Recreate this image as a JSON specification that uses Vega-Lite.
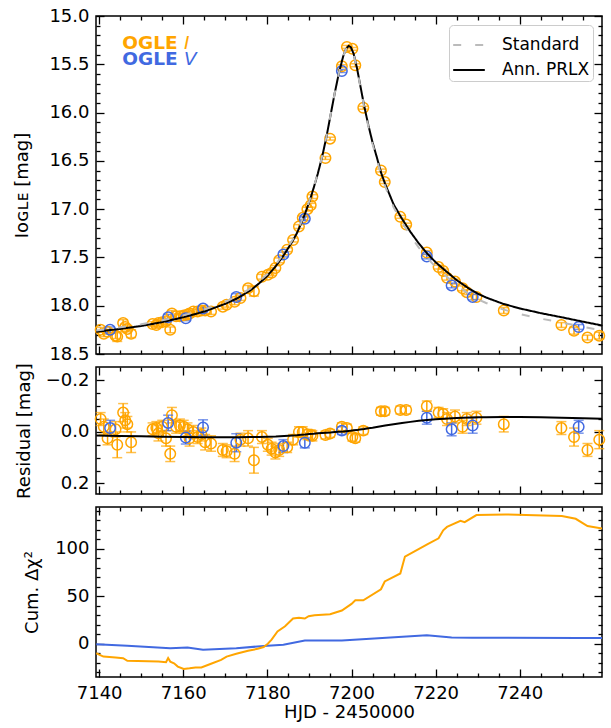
{
  "$schema": "https://vega.github.io/schema/vega-lite/v6.json",
  "background": "white",
  "padding": {"left": 13, "top": 6, "right": 6, "bottom": 2},
  "spacing": 13,
  "bounds": "flush",
  "config": {
    "font": "DejaVu Sans",
    "view": {"stroke": "black", "strokeWidth": 1.5},
    "axis": {"labelFont": "DejaVu Sans", "labelFontSize": 18, "labelColor": "black", "titleFont": "DejaVu Sans", "titleFontSize": 18, "titleFontWeight": "normal", "titleColor": "black", "grid": false, "domain": false, "tickColor": "black", "tickWidth": 1.3, "labelOverlap": false, "labelFlush": false, "minExtent": 0}
  },
  "datasets": {
    "I": [
      {"t":7140.35,"mag":18.25,"res":-0.05,"err":0.025},
      {"t":7141.1,"mag":18.29,"res":-0.02,"err":0.03},
      {"t":7142.0,"mag":18.27,"res":0.025,"err":0.025},
      {"t":7143.9,"mag":18.31,"res":-0.01,"err":0.03},
      {"t":7144.3,"mag":18.32,"res":0.05,"err":0.05},
      {"t":7145.7,"mag":18.18,"res":-0.075,"err":0.035},
      {"t":7146.2,"mag":18.22,"res":-0.045,"err":0.03},
      {"t":7146.7,"mag":18.24,"res":-0.03,"err":0.03},
      {"t":7147.6,"mag":18.29,"res":0.04,"err":0.04},
      {"t":7152.7,"mag":18.19,"res":-0.01,"err":0.025},
      {"t":7153.6,"mag":18.2,"res":-0.015,"err":0.025},
      {"t":7154.1,"mag":18.18,"res":0.005,"err":0.03},
      {"t":7155.0,"mag":18.17,"res":-0.02,"err":0.025},
      {"t":7155.9,"mag":18.16,"res":0.025,"err":0.03},
      {"t":7156.9,"mag":18.25,"res":0.085,"err":0.03},
      {"t":7157.3,"mag":18.08,"res":-0.065,"err":0.03},
      {"t":7158.3,"mag":18.11,"res":-0.02,"err":0.025},
      {"t":7159.2,"mag":18.11,"res":-0.025,"err":0.025},
      {"t":7160.1,"mag":18.1,"res":-0.02,"err":0.025},
      {"t":7161.0,"mag":18.09,"res":-0.01,"err":0.025},
      {"t":7161.5,"mag":18.08,"res":0.025,"err":0.03},
      {"t":7162.4,"mag":18.06,"res":0.0,"err":0.025},
      {"t":7163.4,"mag":18.06,"res":0.02,"err":0.025},
      {"t":7164.3,"mag":18.05,"res":0.01,"err":0.025},
      {"t":7165.2,"mag":18.05,"res":0.04,"err":0.03},
      {"t":7166.6,"mag":18.06,"res":0.045,"err":0.03},
      {"t":7169.4,"mag":18.01,"res":0.07,"err":0.025},
      {"t":7170.3,"mag":17.99,"res":0.075,"err":0.025},
      {"t":7172.2,"mag":17.96,"res":0.085,"err":0.03},
      {"t":7173.6,"mag":17.92,"res":0.03,"err":0.025},
      {"t":7175.4,"mag":17.82,"res":0.025,"err":0.03},
      {"t":7176.8,"mag":17.85,"res":0.11,"err":0.05},
      {"t":7178.7,"mag":17.7,"res":0.02,"err":0.025},
      {"t":7180.1,"mag":17.68,"res":0.05,"err":0.025},
      {"t":7181.0,"mag":17.66,"res":0.065,"err":0.025},
      {"t":7181.9,"mag":17.61,"res":0.08,"err":0.025},
      {"t":7182.8,"mag":17.53,"res":0.07,"err":0.025},
      {"t":7184.7,"mag":17.42,"res":0.06,"err":0.02},
      {"t":7186.1,"mag":17.32,"res":0.03,"err":0.02},
      {"t":7187.5,"mag":17.18,"res":0.0,"err":0.02},
      {"t":7188.4,"mag":17.09,"res":0.0,"err":0.02},
      {"t":7189.5,"mag":17.0,"res":0.01,"err":0.02},
      {"t":7190.3,"mag":16.96,"res":0.012,"err":0.02},
      {"t":7190.7,"mag":16.87,"res":0.015,"err":0.02},
      {"t":7193.8,"mag":16.47,"res":0.012,"err":0.015},
      {"t":7194.9,"mag":16.27,"res":0.006,"err":0.015},
      {"t":7197.7,"mag":15.52,"res":-0.02,"err":0.015},
      {"t":7198.9,"mag":15.32,"res":-0.015,"err":0.015},
      {"t":7200.2,"mag":15.34,"res":0.02,"err":0.015},
      {"t":7200.9,"mag":15.51,"res":0.025,"err":0.015},
      {"t":7202.8,"mag":15.95,"res":-0.005,"err":0.015},
      {"t":7207.0,"mag":16.6,"res":-0.08,"err":0.015},
      {"t":7207.9,"mag":16.72,"res":-0.08,"err":0.015},
      {"t":7211.6,"mag":17.08,"res":-0.085,"err":0.015},
      {"t":7213.0,"mag":17.16,"res":-0.085,"err":0.015},
      {"t":7217.9,"mag":17.45,"res":-0.1,"err":0.02},
      {"t":7220.7,"mag":17.6,"res":-0.075,"err":0.02},
      {"t":7221.8,"mag":17.64,"res":-0.07,"err":0.02},
      {"t":7222.7,"mag":17.71,"res":-0.05,"err":0.025},
      {"t":7224.6,"mag":17.75,"res":-0.06,"err":0.025},
      {"t":7226.4,"mag":17.82,"res":-0.02,"err":0.025},
      {"t":7227.4,"mag":17.86,"res":-0.05,"err":0.025},
      {"t":7229.7,"mag":17.91,"res":-0.055,"err":0.025},
      {"t":7236.2,"mag":18.05,"res":-0.03,"err":0.03},
      {"t":7249.9,"mag":18.2,"res":-0.015,"err":0.025},
      {"t":7252.9,"mag":18.26,"res":0.02,"err":0.035},
      {"t":7256.1,"mag":18.33,"res":0.07,"err":0.025},
      {"t":7258.9,"mag":18.31,"res":0.03,"err":0.035}
    ],
    "V": [
      {"t":7142.6,"mag":18.25,"res":-0.015,"err":0.03},
      {"t":7156.4,"mag":18.12,"res":-0.035,"err":0.03},
      {"t":7160.6,"mag":18.13,"res":0.022,"err":0.025},
      {"t":7164.7,"mag":18.03,"res":-0.017,"err":0.03},
      {"t":7172.6,"mag":17.91,"res":0.042,"err":0.035},
      {"t":7183.8,"mag":17.47,"res":0.055,"err":0.025},
      {"t":7188.9,"mag":17.1,"res":0.042,"err":0.02},
      {"t":7197.7,"mag":15.57,"res":-0.005,"err":0.015},
      {"t":7217.9,"mag":17.49,"res":-0.055,"err":0.025},
      {"t":7223.8,"mag":17.79,"res":-0.01,"err":0.025},
      {"t":7228.8,"mag":17.91,"res":-0.025,"err":0.03},
      {"t":7254.0,"mag":18.22,"res":-0.02,"err":0.025}
    ],
    "model": [
      {"t":7139.3,"prlx":18.27,"std":18.256,"d":0.014},
      {"t":7145,"prlx":18.24,"std":18.224,"d":0.016},
      {"t":7150,"prlx":18.21,"std":18.193,"d":0.017},
      {"t":7155,"prlx":18.17,"std":18.151,"d":0.019},
      {"t":7160,"prlx":18.12,"std":18.1,"d":0.02},
      {"t":7165,"prlx":18.06,"std":18.039,"d":0.021},
      {"t":7170,"prlx":17.98,"std":17.959,"d":0.021},
      {"t":7173,"prlx":17.92,"std":17.899,"d":0.021},
      {"t":7176,"prlx":17.84,"std":17.82,"d":0.02},
      {"t":7178,"prlx":17.77,"std":17.75,"d":0.02},
      {"t":7180,"prlx":17.69,"std":17.671,"d":0.019},
      {"t":7182,"prlx":17.59,"std":17.572,"d":0.018},
      {"t":7184,"prlx":17.47,"std":17.454,"d":0.016},
      {"t":7186,"prlx":17.33,"std":17.316,"d":0.014},
      {"t":7187,"prlx":17.25,"std":17.237,"d":0.013},
      {"t":7188,"prlx":17.15,"std":17.139,"d":0.011},
      {"t":7189,"prlx":17.04,"std":17.03,"d":0.01},
      {"t":7190,"prlx":16.92,"std":16.912,"d":0.008},
      {"t":7191,"prlx":16.78,"std":16.773,"d":0.007},
      {"t":7192,"prlx":16.63,"std":16.625,"d":0.005},
      {"t":7193,"prlx":16.46,"std":16.456,"d":0.004},
      {"t":7194,"prlx":16.26,"std":16.257,"d":0.003},
      {"t":7195,"prlx":16.03,"std":16.028,"d":0.002},
      {"t":7196,"prlx":15.8,"std":15.8,"d":0.0},
      {"t":7197,"prlx":15.59,"std":15.591,"d":-0.001},
      {"t":7198,"prlx":15.42,"std":15.422,"d":-0.002},
      {"t":7198.7,"prlx":15.34,"std":15.343,"d":-0.003},
      {"t":7199.3,"prlx":15.31,"std":15.314,"d":-0.004},
      {"t":7199.8,"prlx":15.32,"std":15.325,"d":-0.005},
      {"t":7200.5,"prlx":15.39,"std":15.396,"d":-0.006},
      {"t":7201.3,"prlx":15.54,"std":15.547,"d":-0.007},
      {"t":7202,"prlx":15.7,"std":15.709,"d":-0.009},
      {"t":7203,"prlx":15.93,"std":15.941,"d":-0.011},
      {"t":7204,"prlx":16.13,"std":16.144,"d":-0.014},
      {"t":7205,"prlx":16.31,"std":16.326,"d":-0.016},
      {"t":7206,"prlx":16.46,"std":16.479,"d":-0.019},
      {"t":7207,"prlx":16.62,"std":16.642,"d":-0.022},
      {"t":7208,"prlx":16.74,"std":16.765,"d":-0.025},
      {"t":7210,"prlx":16.95,"std":16.98,"d":-0.03},
      {"t":7212,"prlx":17.1,"std":17.135,"d":-0.035},
      {"t":7214,"prlx":17.235,"std":17.274,"d":-0.039},
      {"t":7216,"prlx":17.355,"std":17.398,"d":-0.043},
      {"t":7218,"prlx":17.46,"std":17.506,"d":-0.046},
      {"t":7220,"prlx":17.55,"std":17.599,"d":-0.049},
      {"t":7222,"prlx":17.625,"std":17.676,"d":-0.051},
      {"t":7225,"prlx":17.735,"std":17.789,"d":-0.054},
      {"t":7228,"prlx":17.825,"std":17.881,"d":-0.056},
      {"t":7230,"prlx":17.875,"std":17.932,"d":-0.057},
      {"t":7232,"prlx":17.915,"std":17.972,"d":-0.057},
      {"t":7236,"prlx":17.98,"std":18.038,"d":-0.058},
      {"t":7240,"prlx":18.028,"std":18.086,"d":-0.058},
      {"t":7245,"prlx":18.077,"std":18.134,"d":-0.057},
      {"t":7250,"prlx":18.12,"std":18.175,"d":-0.055},
      {"t":7255,"prlx":18.165,"std":18.218,"d":-0.053},
      {"t":7259.6,"prlx":18.205,"std":18.256,"d":-0.051}
    ],
    "chiI": [
      {"t":7139.3,"c":-10},{"t":7141,"c":-13.5},{"t":7143.9,"c":-14.5},{"t":7145.7,"c":-15.2},{"t":7146.7,"c":-18},
      {"t":7154.1,"c":-18.8},{"t":7155.9,"c":-19.5},{"t":7156.4,"c":-15},{"t":7156.9,"c":-18.8},{"t":7157.8,"c":-20.6},
      {"t":7158.7,"c":-24},{"t":7160.1,"c":-26.6},{"t":7161.5,"c":-25.9},{"t":7162.9,"c":-25},{"t":7164.3,"c":-25},
      {"t":7166.6,"c":-21},{"t":7169,"c":-17},{"t":7170.3,"c":-13.5},{"t":7172.6,"c":-10.6},{"t":7175.4,"c":-7.4},
      {"t":7177.7,"c":-5.3},{"t":7179.1,"c":-3.5},{"t":7180.1,"c":0},{"t":7181,"c":4.3},{"t":7182.4,"c":13},
      {"t":7184.2,"c":18.4},{"t":7186.1,"c":26.6},{"t":7187.5,"c":27.3},{"t":7188.9,"c":26.6},{"t":7189.8,"c":29},
      {"t":7191.2,"c":30},{"t":7194.9,"c":31},{"t":7197.7,"c":35},{"t":7200,"c":42},{"t":7200.9,"c":45.7},
      {"t":7202.8,"c":45.7},{"t":7207,"c":57.4},{"t":7207.9,"c":65.6},{"t":7211.6,"c":74},{"t":7212.7,"c":91.8},
      {"t":7218.1,"c":105},{"t":7220.7,"c":111},{"t":7221.8,"c":119.5},{"t":7222.7,"c":123},{"t":7225.9,"c":129.4},
      {"t":7226.9,"c":128},{"t":7229.7,"c":135.5},{"t":7236.6,"c":136.2},{"t":7250,"c":134.4},{"t":7253.3,"c":131.6},
      {"t":7256.1,"c":124},{"t":7259.6,"c":121.3}
    ],
    "chiV": [
      {"t":7139.3,"c":-0.5},{"t":7146.7,"c":-2},{"t":7156.9,"c":-4.6},{"t":7161,"c":-3.9},{"t":7164.7,"c":-6.2},
      {"t":7172.6,"c":-4.6},{"t":7180,"c":-2.1},{"t":7183.8,"c":-1},{"t":7188.9,"c":3.5},{"t":7197.7,"c":3.5},
      {"t":7217.9,"c":8.9},{"t":7223.8,"c":6.7},{"t":7228.8,"c":6.4},{"t":7254,"c":6.0},{"t":7259.6,"c":6.0}
    ]
  },
  "vconcat": [
    {
      "width": 506,
      "height": 338,
      "resolve": {"axis": {"x": "independent", "y": "independent"}},
      "layer": [
        {
          "data": {"name": "I"},
          "mark": {"type": "errorbar", "color": "orange", "thickness": 1.5, "ticks": {"size": 10}},
          "encoding": {
            "x": {"field": "t", "type": "quantitative", "scale": {"domain": [7139.25, 7259.55], "nice": false, "zero": false}, "axis": null},
            "y": {"field": "mag", "type": "quantitative", "scale": {"domain": [15, 18.5], "reverse": true, "nice": false, "zero": false}, "axis": null},
            "yError": {"field": "err"}
          }
        },
        {
          "data": {"name": "V"},
          "mark": {"type": "errorbar", "color": "royalblue", "thickness": 1.5, "ticks": {"size": 10}},
          "encoding": {
            "x": {"field": "t", "type": "quantitative", "axis": null},
            "y": {"field": "mag", "type": "quantitative", "axis": null},
            "yError": {"field": "err"}
          }
        },
        {
          "data": {"name": "I"},
          "mark": {"type": "point", "shape": "circle", "filled": false, "size": 110, "strokeWidth": 1.5, "color": "orange", "opacity": 1},
          "encoding": {
            "x": {"field": "t", "type": "quantitative", "axis": {"orient": "top", "values": [7140,7145,7150,7155,7160,7165,7170,7175,7180,7185,7190,7195,7200,7205,7210,7215,7220,7225,7230,7235,7240,7245,7250,7255], "labels": false, "title": null, "tickSize": {"condition": {"test": "datum.value % 20 === 0", "value": -8}, "value": -4}}},
            "y": {"field": "mag", "type": "quantitative", "axis": {"orient": "right", "values": [15,15.1,15.2,15.3,15.4,15.5,15.6,15.7,15.8,15.9,16,16.1,16.2,16.3,16.4,16.5,16.6,16.7,16.8,16.9,17,17.1,17.2,17.3,17.4,17.5,17.6,17.7,17.8,17.9,18,18.1,18.2,18.3,18.4], "labels": false, "title": null, "tickSize": {"condition": {"test": "abs(datum.value*2 - round(datum.value*2)) < 0.01", "value": -8}, "value": -4}}}
          }
        },
        {
          "data": {"name": "V"},
          "mark": {"type": "point", "shape": "circle", "filled": false, "size": 110, "strokeWidth": 1.5, "color": "royalblue", "opacity": 1},
          "encoding": {
            "x": {"field": "t", "type": "quantitative", "axis": null},
            "y": {"field": "mag", "type": "quantitative", "axis": null}
          }
        },
        {
          "data": {"name": "model"},
          "transform": [{"fold": ["prlx", "std"], "as": ["model", "m"]}],
          "mark": {"type": "line", "strokeWidth": 2, "clip": true},
          "encoding": {
            "x": {"field": "t", "type": "quantitative", "axis": {"orient": "bottom", "values": [7140,7145,7150,7155,7160,7165,7170,7175,7180,7185,7190,7195,7200,7205,7210,7215,7220,7225,7230,7235,7240,7245,7250,7255], "labels": false, "title": null, "tickSize": {"condition": {"test": "datum.value % 20 === 0", "value": -8}, "value": -4}}},
            "y": {"field": "m", "type": "quantitative", "axis": {"orient": "left", "values": [15,15.1,15.2,15.3,15.4,15.5,15.6,15.7,15.8,15.9,16,16.1,16.2,16.3,16.4,16.5,16.6,16.7,16.8,16.9,17,17.1,17.2,17.3,17.4,17.5,17.6,17.7,17.8,17.9,18,18.1,18.2,18.3,18.4,18.5], "title": "Iᴏɢʟᴇ [mag]", "titlePadding": 17, "labelPadding": 15, "labelExpr": "abs(datum.value*2 - round(datum.value*2)) < 0.01 ? format(datum.value, '.1f') : ''", "tickSize": {"condition": {"test": "abs(datum.value*2 - round(datum.value*2)) < 0.01", "value": -8}, "value": -4}}},
            "color": {"field": "model", "type": "nominal", "scale": {"domain": ["std", "prlx"], "range": ["#bbbbbb", "black"]},
              "legend": {"orient": "top-right", "offset": 9, "title": null, "symbolType": "stroke", "symbolSize": 1000, "symbolStrokeWidth": 2, "labelFontSize": 17, "labelFont": "DejaVu Sans", "labelColor": "black", "strokeColor": "#cccccc", "fillColor": "rgba(255,255,255,0.85)", "cornerRadius": 4, "padding": 3, "labelOffset": 16, "rowPadding": 0, "labelExpr": "datum.label === 'std' ? 'Standard' : 'Ann. PRLX'"}},
            "strokeDash": {"field": "model", "type": "nominal", "scale": {"domain": ["std", "prlx"], "range": [[8, 14], [1, 0]]},
              "legend": {"orient": "top-right", "offset": 9, "title": null, "symbolType": "stroke", "symbolSize": 1000, "symbolStrokeWidth": 2, "labelFontSize": 17, "labelFont": "DejaVu Sans", "labelColor": "black", "strokeColor": "#cccccc", "fillColor": "rgba(255,255,255,0.85)", "cornerRadius": 4, "padding": 3, "labelOffset": 16, "rowPadding": 0, "labelExpr": "datum.label === 'std' ? 'Standard' : 'Ann. PRLX'"}},
            "order": {"field": "model", "sort": "ascending"}
          }
        },
        {
          "data": {"values": [{"t": 7145.5, "m": 15.339, "txt": "OGLE", "c": "orange"}, {"t": 7145.5, "m": 15.511, "txt": "OGLE", "c": "royalblue"}]},
          "mark": {"type": "text", "align": "left", "baseline": "alphabetic", "fontSize": 18.5, "fontWeight": "bold", "font": "DejaVu Sans"},
          "encoding": {
            "x": {"field": "t", "type": "quantitative", "axis": null},
            "y": {"field": "m", "type": "quantitative", "axis": null},
            "text": {"field": "txt"},
            "color": {"field": "c", "type": "nominal", "scale": null}
          }
        },
        {
          "data": {"values": [{"t": 7160.2, "m": 15.339, "txt": "I", "c": "orange"}, {"t": 7160.2, "m": 15.511, "txt": "V", "c": "royalblue"}]},
          "mark": {"type": "text", "align": "left", "baseline": "alphabetic", "fontSize": 18.5, "fontStyle": "italic", "font": "DejaVu Sans"},
          "encoding": {
            "x": {"field": "t", "type": "quantitative", "axis": null},
            "y": {"field": "m", "type": "quantitative", "axis": null},
            "text": {"field": "txt"},
            "color": {"field": "c", "type": "nominal", "scale": null}
          }
        }
      ]
    },
    {
      "width": 506,
      "height": 127,
      "resolve": {"axis": {"x": "independent", "y": "independent"}},
      "layer": [
        {
          "mark": {"type": "rule", "color": "#bbbbbb", "strokeWidth": 2, "strokeDash": [8, 14]},
          "encoding": {"y": {"datum": 0, "type": "quantitative", "scale": {"domain": [-0.252, 0.241], "reverse": true, "nice": false, "zero": false}, "axis": null}}
        },
        {
          "data": {"name": "I"},
          "mark": {"type": "errorbar", "color": "orange", "thickness": 1.5, "ticks": {"size": 10}},
          "encoding": {
            "x": {"field": "t", "type": "quantitative", "scale": {"domain": [7139.25, 7259.55], "nice": false, "zero": false}, "axis": null},
            "y": {"field": "res", "type": "quantitative", "axis": null},
            "yError": {"field": "err"}
          }
        },
        {
          "data": {"name": "V"},
          "mark": {"type": "errorbar", "color": "royalblue", "thickness": 1.5, "ticks": {"size": 10}},
          "encoding": {
            "x": {"field": "t", "type": "quantitative", "axis": null},
            "y": {"field": "res", "type": "quantitative", "axis": null},
            "yError": {"field": "err"}
          }
        },
        {
          "data": {"name": "I"},
          "mark": {"type": "point", "shape": "circle", "filled": false, "size": 110, "strokeWidth": 1.5, "color": "orange", "opacity": 1},
          "encoding": {
            "x": {"field": "t", "type": "quantitative", "axis": {"orient": "top", "values": [7140,7145,7150,7155,7160,7165,7170,7175,7180,7185,7190,7195,7200,7205,7210,7215,7220,7225,7230,7235,7240,7245,7250,7255], "labels": false, "title": null, "tickSize": {"condition": {"test": "datum.value % 20 === 0", "value": -8}, "value": -4}}},
            "y": {"field": "res", "type": "quantitative", "axis": {"orient": "right", "values": [-0.2,-0.15,-0.1,-0.05,0,0.05,0.1,0.15,0.2], "labels": false, "title": null, "tickSize": {"condition": {"test": "abs(datum.value) < 0.001 || abs(abs(datum.value) - 0.2) < 0.001", "value": -8}, "value": -4}}}
          }
        },
        {
          "data": {"name": "V"},
          "mark": {"type": "point", "shape": "circle", "filled": false, "size": 110, "strokeWidth": 1.5, "color": "royalblue", "opacity": 1},
          "encoding": {
            "x": {"field": "t", "type": "quantitative", "axis": null},
            "y": {"field": "res", "type": "quantitative", "axis": null}
          }
        },
        {
          "data": {"name": "model"},
          "mark": {"type": "line", "color": "black", "strokeWidth": 2, "clip": true},
          "encoding": {
            "x": {"field": "t", "type": "quantitative", "axis": {"orient": "bottom", "values": [7140,7145,7150,7155,7160,7165,7170,7175,7180,7185,7190,7195,7200,7205,7210,7215,7220,7225,7230,7235,7240,7245,7250,7255], "labels": false, "title": null, "tickSize": {"condition": {"test": "datum.value % 20 === 0", "value": -8}, "value": -4}}},
            "y": {"field": "d", "type": "quantitative", "axis": {"orient": "left", "values": [-0.2,-0.15,-0.1,-0.05,0,0.05,0.1,0.15,0.2], "title": "Residual [mag]", "titlePadding": 12, "labelPadding": 15, "labelExpr": "abs(datum.value) < 0.001 || abs(abs(datum.value) - 0.2) < 0.001 ? format(datum.value, '.1f') : ''", "tickSize": {"condition": {"test": "abs(datum.value) < 0.001 || abs(abs(datum.value) - 0.2) < 0.001", "value": -8}, "value": -4}}}
          }
        }
      ]
    },
    {
      "width": 506,
      "height": 170,
      "resolve": {"axis": {"x": "independent", "y": "independent"}},
      "layer": [
        {
          "mark": {"type": "rule", "color": "#bbbbbb", "strokeWidth": 2, "strokeDash": [8, 14]},
          "encoding": {"y": {"datum": 0, "type": "quantitative", "scale": {"domain": [-35, 144], "nice": false, "zero": false}, "axis": null}}
        },
        {
          "data": {"name": "chiV"},
          "mark": {"type": "line", "color": "royalblue", "strokeWidth": 2, "clip": true},
          "encoding": {
            "x": {"field": "t", "type": "quantitative", "scale": {"domain": [7139.25, 7259.55], "nice": false, "zero": false}, "axis": {"orient": "top", "values": [7140,7145,7150,7155,7160,7165,7170,7175,7180,7185,7190,7195,7200,7205,7210,7215,7220,7225,7230,7235,7240,7245,7250,7255], "labels": false, "title": null, "tickSize": {"condition": {"test": "datum.value % 20 === 0", "value": -8}, "value": -4}}},
            "y": {"field": "c", "type": "quantitative", "axis": {"orient": "right", "values": [-30,-20,-10,0,10,20,30,40,50,60,70,80,90,100,110,120,130,140], "labels": false, "title": null, "tickSize": {"condition": {"test": "datum.value % 50 === 0", "value": -8}, "value": -4}}}
          }
        },
        {
          "data": {"name": "chiI"},
          "mark": {"type": "line", "color": "orange", "strokeWidth": 2, "clip": true},
          "encoding": {
            "x": {"field": "t", "type": "quantitative", "axis": {"orient": "bottom", "values": [7140,7145,7150,7155,7160,7165,7170,7175,7180,7185,7190,7195,7200,7205,7210,7215,7220,7225,7230,7235,7240,7245,7250,7255], "title": "HJD - 2450000", "titlePadding": -3, "labelPadding": 15, "labelExpr": "datum.value % 20 === 0 ? format(datum.value, 'd') : ''", "tickSize": {"condition": {"test": "datum.value % 20 === 0", "value": -8}, "value": -4}}},
            "y": {"field": "c", "type": "quantitative", "axis": {"orient": "left", "values": [-30,-20,-10,0,10,20,30,40,50,60,70,80,90,100,110,120,130,140], "title": "Cum. Δχ²", "titlePadding": 13, "labelPadding": 15, "labelExpr": "datum.value % 50 === 0 ? format(datum.value, 'd') : ''", "tickSize": {"condition": {"test": "datum.value % 50 === 0", "value": -8}, "value": -4}}}
          }
        }
      ]
    }
  ]
}
